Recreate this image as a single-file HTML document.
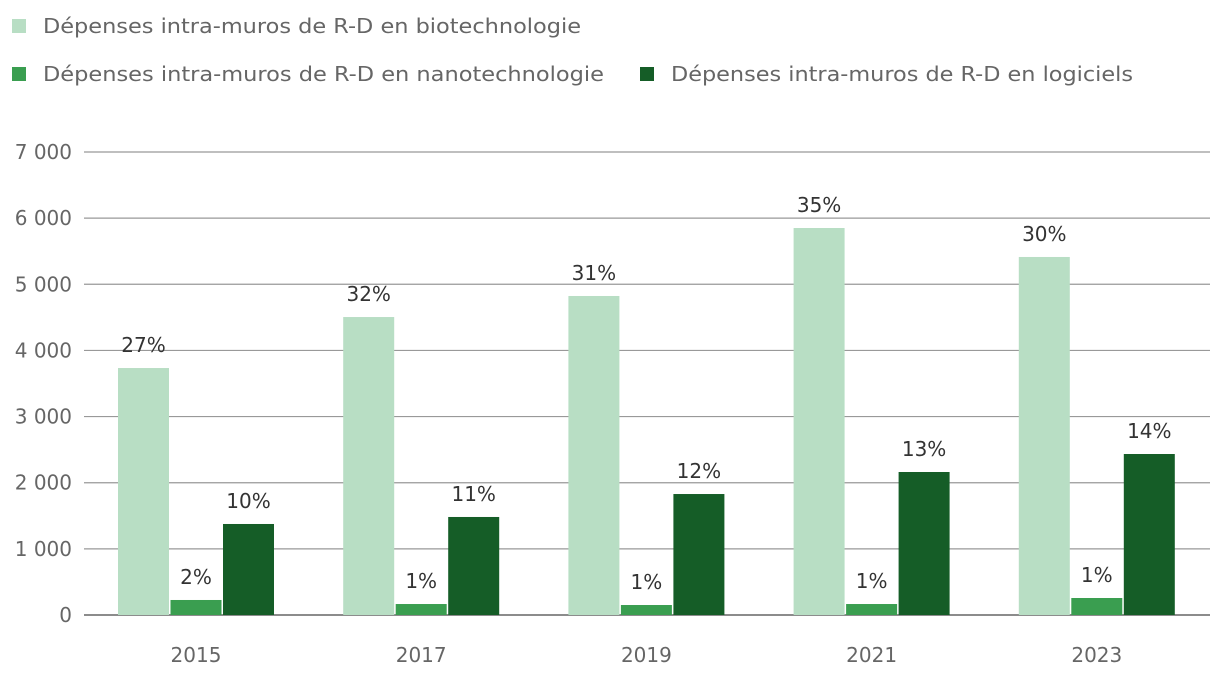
<!DOCTYPE html>
<html><head><meta charset="utf-8">
<style>
body{margin:0;background:#fff;width:1220px;height:688px;overflow:hidden;font-family:"DejaVu Sans",sans-serif;}
svg text{font-family:"DejaVu Sans","Liberation Sans",sans-serif;}
</style></head>
<body>
<svg width="1220" height="688">
<g>
 <g><rect x="12" y="19" width="14" height="14" fill="#b8dec4"/><text x="43" y="33" font-size="20" fill="#666" textLength="538" lengthAdjust="spacingAndGlyphs">Dépenses intra-muros de R-D en biotechnologie</text></g>
 <g><rect x="12" y="67" width="14" height="14" fill="#3a9e50"/><text x="43" y="81" font-size="20" fill="#666" textLength="561" lengthAdjust="spacingAndGlyphs">Dépenses intra-muros de R-D en nanotechnologie</text></g>
 <g><rect x="640" y="67" width="14" height="14" fill="#155d27"/><text x="671" y="81" font-size="20" fill="#666" textLength="462" lengthAdjust="spacingAndGlyphs">Dépenses intra-muros de R-D en logiciels</text></g>
</g>
<g id="grid"></g>
<g id="bars"></g>
<g id="xaxis"></g>
</svg>
<script>
const categories=["2015","2017","2019","2021","2023"];
const biotech=[3734,4505,4823,5851,5413];
const nanotech=[227,166,151,166,257];
const software=[1376,1482,1829,2162,2434];
const biotechLabels=["27%","32%","31%","35%","30%"];
const nanotechLabels=["2%","1%","1%","1%","1%"];
const softwareLabels=["10%","11%","12%","13%","14%"];
const yTicks=[0,1000,2000,3000,4000,5000,6000,7000];
const yTickLabels=["0","1 000","2 000","3 000","4 000","5 000","6 000","7 000"];

const NS="http://www.w3.org/2000/svg";
const y0=615, pxPer=463/7000, left=84, right=1210;
const y=v=>y0-v*pxPer;
const xc=i=>196+i*225.2;
function mk(tag,attrs,parent,txt){const e=document.createElementNS(NS,tag);for(const k in attrs)e.setAttribute(k,attrs[k]);if(txt!==undefined)e.textContent=txt;parent.appendChild(e);return e;}
const grid=document.getElementById('grid');
yTicks.forEach((t,i)=>{
 const l=mk('line',{x1:left,x2:right,y1:y(t),y2:y(t),stroke:t===0?'#666':'#999','stroke-width':t===0?1.5:1.2},grid);
 
 
 const tx=mk('text',{x:72,y:y(t)+7,'text-anchor':'end','font-size':20,fill:'#666'},grid,yTickLabels[i]);
 
 
});
const bars=document.getElementById('bars');
const series=[[biotech,biotechLabels,'#b8dec4',-1],[nanotech,nanotechLabels,'#3a9e50',0],[software,softwareLabels,'#155d27',1]];
const bw=51;
categories.forEach((c,i)=>{
 series.forEach(([vals,labs,col,off])=>{
  const x=xc(i)+off*52.5-bw/2;
  const r=mk('rect',{x:x,y:y(vals[i]),width:bw,height:vals[i]*pxPer,fill:col},bars);
  
  
  const t=mk('text',{x:x+bw/2,y:y(vals[i])-16,'text-anchor':'middle','font-size':20,fill:'#333'},bars,labs[i]);
  
  
 });
 const xa=document.getElementById('xaxis');
 const t=mk('text',{x:xc(i),y:662,'text-anchor':'middle','font-size':20,fill:'#666'},xa,c);
 
 
});
</script>
</body></html>
